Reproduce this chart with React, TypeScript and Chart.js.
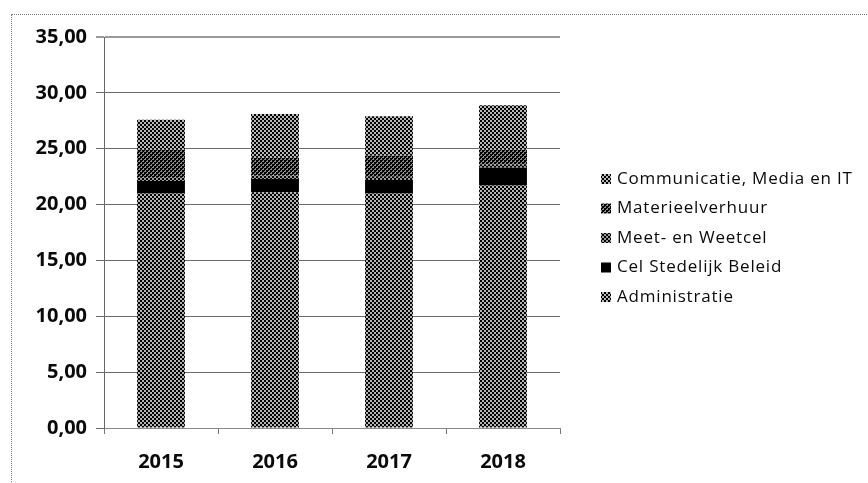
import { useEffect, useRef } from 'react';
import { Chart, registerables } from 'chart.js';

Chart.register(...registerables);

const years = ['2015', '2016', '2017', '2018'];
const administratie = [21.0, 21.1, 21.0, 21.7];
const celStedelijkBeleid = [1.1, 1.2, 1.2, 1.6];
const meetEnWeetcel = [0.3, 0.3, 0.3, 0.3];
const materieelverhuur = [2.5, 1.6, 1.9, 1.3];
const communicatie = [2.7, 3.9, 3.5, 4.0];
const seriesLabels = [
  'Administratie',
  'Cel Stedelijk Beleid',
  'Meet- en Weetcel',
  'Materieelverhuur',
  'Communicatie, Media en IT',
];
const yMax = 35;
const yStep = 5;

function makePattern(fg: string, bg: string, tile: number[][]): CanvasPattern | string {
  const c = document.createElement('canvas');
  const n = tile.length;
  c.width = n;
  c.height = n;
  const g = c.getContext('2d');
  if (!g) return fg;
  g.fillStyle = bg;
  g.fillRect(0, 0, n, n);
  g.fillStyle = fg;
  for (let y = 0; y < n; y++) for (let x = 0; x < n; x++) if (tile[y][x]) g.fillRect(x, y, 1, 1);
  const p = g.createPattern(c, 'repeat');
  return p || fg;
}

const checker = [
  [1, 1, 0, 0],
  [1, 1, 0, 0],
  [0, 0, 1, 1],
  [0, 0, 1, 1],
];
const denseChecker = [
  [1, 1, 1, 0],
  [1, 1, 0, 0],
  [1, 0, 1, 1],
  [0, 0, 1, 1],
];

export default function App() {
  const ref = useRef<HTMLCanvasElement>(null);
  useEffect(() => {
    if (!ref.current) return;
    const pAdmin = makePattern('#000', '#b4b4b4', checker);
    const pMeet = makePattern('#000', '#9a9a9a', checker);
    const pMat = makePattern('#000', '#8a8a8a', denseChecker);
    const pComm = makePattern('#000', '#b8b8b8', checker);
    const fills = [pAdmin, '#000', pMeet, pMat, pComm];
    const values = [administratie, celStedelijkBeleid, meetEnWeetcel, materieelverhuur, communicatie];

    const legendPlugin = {
      id: 'customLegend',
      afterDraw(chart: any) {
        const ctx = chart.ctx;
        const ds = chart.data.datasets;
        ctx.save();
        ctx.font = '17px "Open Sans"';
        try { (ctx as any).letterSpacing = '0.8px'; } catch (e) { /* ignore */ }
        ctx.textBaseline = 'middle';
        const x0 = chart.chartArea.right + 41;
        const y0 = 179;
        const gap = 29.5;
        for (let k = 0; k < ds.length; k++) {
          const i = ds.length - 1 - k;
          const y = y0 + k * gap;
          ctx.fillStyle = ds[i].backgroundColor;
          ctx.fillRect(x0, y - 5, 10, 10);
          ctx.fillStyle = '#0a0a0a';
          ctx.fillText(ds[i].label, x0 + 16, y);
        }
        ctx.restore();
      },
    };

    const chart = new Chart(ref.current, {
      type: 'bar',
      data: {
        labels: years,
        datasets: seriesLabels.map((label, i) => ({
          label,
          data: values[i],
          backgroundColor: fills[i] as any,
          borderWidth: 0,
          barPercentage: 0.42,
          categoryPercentage: 1,
        })),
      },
      options: {
        responsive: false,
        animation: false,
        layout: { padding: { left: 0, top: 37, right: 308, bottom: 0 } },
        plugins: { legend: { display: false }, tooltip: { enabled: false } },
        scales: {
          x: {
            stacked: true,
            afterFit: (s: any) => { s.height = 55; },
            grid: { drawOnChartArea: false, drawTicks: true, tickLength: 6, color: '#777', offset: true },
            border: { display: true, color: '#8a8a8a', width: 1 },
            ticks: { color: '#0a0a0a', font: { family: '"Open Sans"', size: 20, weight: 'bold' }, padding: 16 },
          },
          y: {
            stacked: true,
            min: 0,
            max: yMax,
            afterFit: (s: any) => { s.width = 104; },
            grid: {
              color: (c: any) => (c.tick && c.tick.value === yMax ? '#999' : '#6a6a6a'),
              lineWidth: (c: any) => (c.tick && c.tick.value === yMax ? 2 : 1),
              tickLength: 8,
            },
            border: { display: true, color: '#666', width: 1 },
            ticks: {
              stepSize: yStep,
              color: '#0a0a0a',
              font: { family: '"Open Sans"', size: 20, weight: 'bold' },
              padding: 9,
              callback: (v: any) => Number(v).toFixed(2).replace('.', ','),
            },
          },
        },
      },
      plugins: [legendPlugin],
    });
    return () => chart.destroy();
  }, []);

  return (
    <div style={{ position: 'fixed', left: 0, top: 0, width: 868, height: 483, background: '#fff', overflow: 'hidden' }}>
      <div style={{ position: 'absolute', left: 11, top: 14, width: 900, height: 520, border: '1px dotted #777' }} />
      <canvas ref={ref} width={868} height={483} style={{ position: 'absolute', left: 0, top: 0 }} />
    </div>
  );
}
